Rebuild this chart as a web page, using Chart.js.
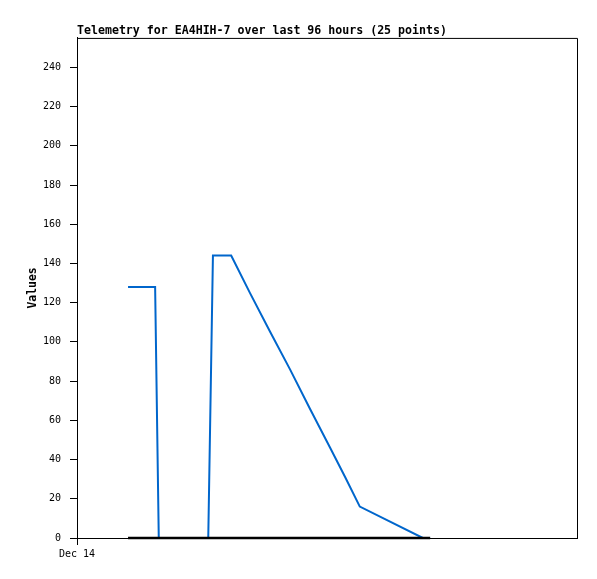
<!DOCTYPE html>
<html>
<head>
<meta charset="utf-8">
<script src="https://cdn.jsdelivr.net/npm/chart.js@4.4.1/dist/chart.umd.min.js"></script>
<style>
html,body{margin:0;padding:0;background:#fff;}
#wrap{width:597px;height:579px;position:relative;}
</style>
</head>
<body>
<div id="wrap"><canvas id="c" width="597" height="579"></canvas></div>
<script>
// Hours since start of Dec 14 (x axis spans 96 hours)
const blueHours  = [9.8, 15.0, 15.7, 25.2, 26.1, 29.6, 33.2, 37.1, 40.9, 44.7, 48.6, 51.5, 54.3, 66.4, 67.8];
const blueValues = [128, 128, 0, 0, 144, 144, 125, 105, 86, 66, 46, 31, 16, 0, 0];
const blackHours  = [9.8, 67.8];
const blackValues = [0, 0];
const yTicks = [0, 20, 40, 60, 80, 100, 120, 140, 160, 180, 200, 220, 240];
const xTickLabels = ["Dec 14"];
const titleText = "Telemetry for EA4HIH-7 over last 96 hours (25 points)";

const toPts = (xs, ys) => xs.map((x, i) => ({x: x, y: ys[i]}));

const frame = {
  id: 'frame',
  afterDatasetsDraw(chart) {
    const a = chart.chartArea, ctx = chart.ctx;
    ctx.save();
    ctx.strokeStyle = '#000';
    ctx.lineWidth = 1;
    ctx.beginPath();
    ctx.moveTo(a.left, a.top + 0.5);
    ctx.lineTo(a.right + 0.5, a.top + 0.5);
    ctx.lineTo(a.right + 0.5, a.bottom);
    ctx.stroke();
    ctx.restore();
  }
};

new Chart(document.getElementById('c'), {
  type: 'line',
  data: {
    datasets: [
      { data: toPts(blackHours, blackValues), borderColor: '#000', borderWidth: 2.5, pointRadius: 0, tension: 0, fill: false, clip: false },
      { data: toPts(blueHours, blueValues), borderColor: '#0066cc', borderWidth: 2, pointRadius: 0, tension: 0, fill: false }
    ]
  },
  options: {
    responsive: false,
    animation: false,
    events: [],
    layout: { padding: { left: 0, right: 20, top: 0, bottom: 0 } },
    plugins: {
      legend: { display: false },
      tooltip: { enabled: false },
      title: {
        display: true,
        text: titleText,
        align: 'start',
        fullSize: false,
        color: '#000',
        font: { family: '"DejaVu Sans Mono", monospace', size: 11.6, weight: 'bold', lineHeight: 1.2 },
        padding: { top: 24, bottom: 0 }
      }
    },
    scales: {
      x: {
        type: 'linear',
        min: 0,
        max: 96,
        afterBuildTicks: s => { s.ticks = [{ value: 0 }]; },
        afterFit: s => { s.height = 41; },
        ticks: {
          autoSkip: false,
          maxRotation: 0,
          color: '#000',
          padding: 3,
          font: { family: '"DejaVu Sans Mono", monospace', size: 10 },
          callback: (v, i) => xTickLabels[i]
        },
        grid: { drawOnChartArea: false, drawTicks: true, tickLength: 7, color: '#000' },
        border: { display: true, color: '#000', width: 1 }
      },
      y: {
        type: 'linear',
        min: 0,
        max: 255,
        afterBuildTicks: s => { s.ticks = yTicks.map(v => ({ value: v })); },
        afterFit: s => { s.width = 77; },
        ticks: {
          color: '#000',
          padding: 9,
          font: { family: '"DejaVu Sans Mono", monospace', size: 10 }
        },
        grid: { drawOnChartArea: false, drawTicks: true, tickLength: 7, color: '#000' },
        border: { display: true, color: '#000', width: 1 },
        title: {
          display: true,
          text: 'Values',
          color: '#000',
          font: { family: '"DejaVu Sans Mono", monospace', size: 11.4, weight: 'bold', lineHeight: 1.2 },
          padding: { top: 26, bottom: 0 }
        }
      }
    }
  },
  plugins: [frame]
});
</script>
</body>
</html>
